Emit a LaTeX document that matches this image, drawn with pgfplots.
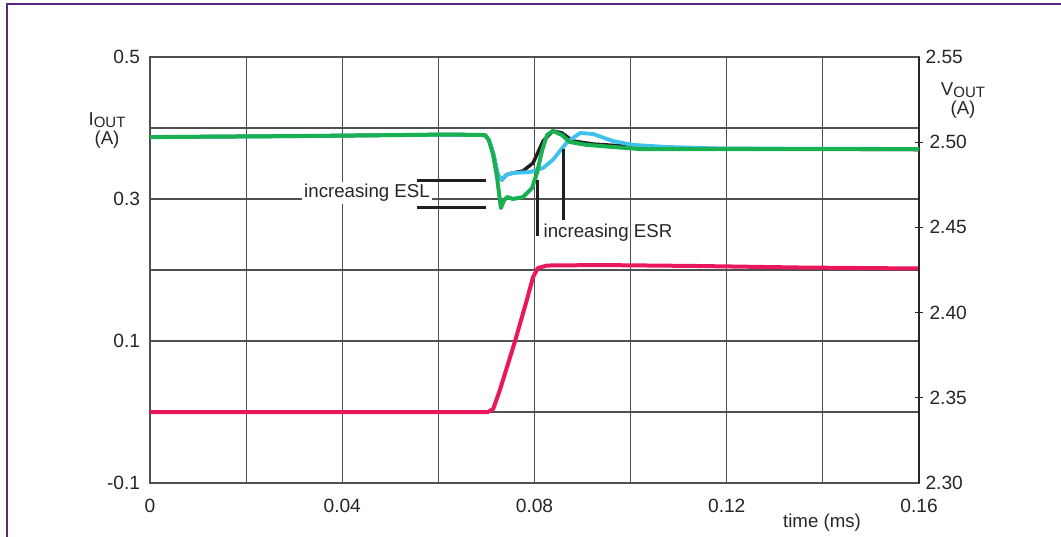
\documentclass[border=0pt]{standalone}
\usepackage{fontspec}
\setmainfont{Liberation Sans}
\usepackage{pgfplots}
\pgfplotsset{compat=1.18}
\definecolor{gridc}{RGB}{80,80,80}
\definecolor{cred}{RGB}{232,24,90}
\definecolor{cgreen}{RGB}{24,176,80}
\definecolor{cblue}{RGB}{64,192,236}
\definecolor{cblack}{RGB}{35,31,32}
\definecolor{framec}{RGB}{90,40,130}
\begin{document}
\begin{tikzpicture}
\fontsize{11.2}{13.2}\selectfont
\begin{axis}[
  at={(0,0)}, anchor=south west, scale only axis,
  width=461.4pt, height=255.6pt,
  xmin=0, xmax=0.16, ymin=-0.1, ymax=0.5,
  xtick={0,0.04,0.08,0.12,0.16}, xticklabels={0,0.04,0.08,0.12,0.16},
  minor xtick={0.02,0.06,0.10,0.14},
  ytick={-0.1,0.1,0.3,0.5}, yticklabels={-0.1,0.1,0.3,0.5},
  minor ytick={0,0.2,0.4},
  grid=both,
  major grid style={gridc, line width=0.7pt},
  minor grid style={gridc, line width=0.7pt},
  major tick length=0pt, minor tick length=0pt,
  axis line style={gridc, line width=0.7pt},
  tick label style={font=\fontsize{11.5}{13.5}\selectfont, text=black!85},
  xticklabel style={yshift=-5.5pt},
  yticklabel style={xshift=-2pt},
  /pgf/number format/assume math mode=true,
]
\addplot[cred, line width=2.4pt, line join=round] coordinates {
(0,0.0) (0.0703,0.0) (0.0714,0.0042) (0.0728,0.031) (0.0759,0.0986)
(0.0784,0.1577) (0.0797,0.190) (0.0807,0.2028) (0.0826,0.2063)
(0.0936,0.2070) (0.1144,0.2056) (0.1352,0.2035) (0.16,0.2021)
};
\end{axis}
\begin{axis}[
  at={(0,0)}, anchor=south west, scale only axis,
  width=461.4pt, height=255.6pt,
  xmin=0, xmax=0.16, ymin=2.30, ymax=2.55,
  axis x line=none, axis y line*=right,
  y axis line style={black!85, line width=0.7pt},
  ytick={2.35,2.40,2.45,2.50}, yticklabels={2.35,2.40,2.45,2.50},
  extra y ticks={2.30,2.55}, extra y tick labels={2.30,2.55},
  extra y tick style={major tick length=0pt},
  tick align=center, major tick length=4.8pt,
  ytick style={black!85, line width=0.6pt},
  tick label style={font=\fontsize{11.5}{13.5}\selectfont, text=black!85},
  /pgf/number format/assume math mode=true,
]
\addplot[cblack, line width=2.1pt, line join=round] coordinates {
(0,2.5030) (0.0312,2.5036) (0.0624,2.5045) (0.0697,2.5042) (0.0705,2.5013)
(0.0714,2.4937) (0.0724,2.4808) (0.0732,2.4778) (0.0741,2.4808) (0.0755,2.4819)
(0.0776,2.4831) (0.0797,2.4878) (0.0818,2.5007) (0.0838,2.5066) (0.0857,2.5054)
(0.0880,2.5007) (0.0922,2.4989) (0.0999,2.4975) (0.1144,2.4963) (0.16,2.4957)
};
\addplot[cblue, line width=2.3pt, line join=round] coordinates {
(0,2.5030) (0.0312,2.5036) (0.0624,2.5045) (0.0697,2.5042) (0.0705,2.5013)
(0.0714,2.4937) (0.0724,2.4808) (0.0732,2.4778) (0.0741,2.4808) (0.0755,2.4819)
(0.0791,2.4825) (0.0818,2.4849) (0.0838,2.4896) (0.0868,2.5001) (0.0895,2.5054)
(0.0922,2.5048) (0.0963,2.5007) (0.1005,2.4984) (0.1076,2.4972) (0.1186,2.4963)
(0.16,2.4960)
};
\addplot[cgreen, line width=2.4pt, line join=round] coordinates {
(0,2.5030) (0.0312,2.5036) (0.0624,2.5045) (0.0697,2.5042) (0.0705,2.5013)
(0.0714,2.4925) (0.0722,2.4796) (0.0730,2.4614) (0.0737,2.4661) (0.0743,2.4678)
(0.0755,2.4667) (0.0776,2.4678) (0.0795,2.4731) (0.0805,2.4819) (0.0816,2.4954)
(0.0826,2.5042) (0.0838,2.5066) (0.0857,2.5042) (0.0874,2.5001) (0.0909,2.4984)
(0.0963,2.4972) (0.1019,2.4960) (0.16,2.4960)
};
\end{axis}
\begin{scope}[shift={(-90pt,289.8pt)}, x=0.6pt, y=-0.6pt]
\draw[framec, line width=0.9pt] (7,540) -- (7,4) -- (1065,4);
\node[text=black!85] at (107,120) {I\raisebox{-1.5pt}{\fontsize{9}{10}\selectfont OUT}};
\node[text=black!85] at (107,140) {(A)};
\node[text=black!85] at (963,90) {V\raisebox{-1.5pt}{\fontsize{9}{10}\selectfont OUT}};
\node[text=black!85] at (963,110) {(A)};
\node[text=black!85] at (822,523) {time (ms)};
\node[fill=white, inner sep=1.2pt, text=black!85] at (367,193) {increasing ESL};
\node[text=black!85] at (608,233) {increasing ESR};
\draw[cblack, line width=1.8pt] (417,181) -- (486,181);
\draw[cblack, line width=1.8pt] (417,207) -- (486,207);
\draw[cblack, line width=1.8pt] (537,180) -- (537,236);
\draw[cblack, line width=1.8pt] (563,149) -- (563,220);
\end{scope}
\pgfresetboundingbox
\useasboundingbox (-90pt,-31.8pt) rectangle (546.6pt,289.8pt);
\end{tikzpicture}
\end{document}
